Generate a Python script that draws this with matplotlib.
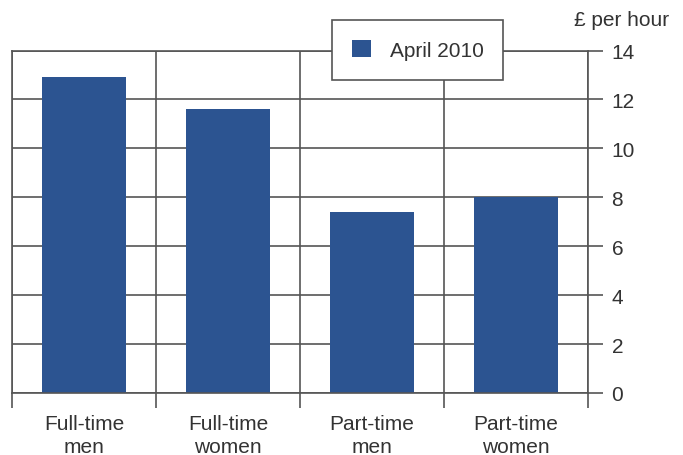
import matplotlib
matplotlib.use("Agg")
import matplotlib.pyplot as plt
from matplotlib.patches import Patch

# Hourly earnings by group, April 2010
categories = ["Full-time\nmen", "Full-time\nwomen", "Part-time\nmen", "Part-time\nwomen"]
earnings = [12.9, 11.6, 7.4, 8.0]
y_ticks = [0, 2, 4, 6, 8, 10, 12, 14]
series_name = "April 2010"

bar_color = "#2c5491"
line_color = "#555555"
text_color = "#333333"
fs = 15

plt.rcParams["font.family"] = ["Liberation Sans", "DejaVu Sans"]

W, H = 683, 456
fig = plt.figure(figsize=(W / 100, H / 100), dpi=100)
ax = fig.add_axes([12 / W, (H - 394) / H, (588 - 12) / W, (394 - 51.5) / H])

x = list(range(len(categories)))
ax.bar(x, earnings, width=0.59, color=bar_color, zorder=2)

ax.set_xlim(-0.5, len(categories) - 0.5)
ax.set_ylim(0, 14)

# category boundaries as major ticks (drawn as grid + long ticks below)
ax.set_xticks([i - 0.5 for i in range(len(categories) + 1)])
ax.set_xticklabels([])
ax.set_xticks(x, minor=True)
ax.set_xticklabels(categories, minor=True, fontsize=fs, color=text_color, linespacing=1.25)
ax.tick_params(axis="x", which="major", direction="out", length=11, width=1.2, color=line_color)
ax.tick_params(axis="x", which="minor", length=0, pad=15)

ax.yaxis.tick_right()
ax.set_yticks(y_ticks)
ax.tick_params(axis="y", direction="out", length=11, width=1.2, color=line_color,
               labelsize=fs, labelcolor=text_color, pad=6)

ax.grid(True, which="major", color=line_color, linewidth=1.2)
ax.set_axisbelow(True)
for sp in ax.spines.values():
    sp.set_color(line_color)
    sp.set_linewidth(1.2)

leg = fig.legend(handles=[Patch(facecolor=bar_color, edgecolor="none", label=series_name)],
                 loc="upper left", bbox_to_anchor=(332 / W, 1 - 21 / H), borderaxespad=0,
                 fontsize=fs, frameon=True, fancybox=False, framealpha=1,
                 borderpad=0.95, handlelength=0.92, handleheight=0.92, handletextpad=0.9,
                 labelcolor=text_color)
leg.get_frame().set_edgecolor(line_color)
leg.get_frame().set_linewidth(1.2)

fig.text(669 / W, 1 - 20 / H, "£ per hour", ha="right", va="center",
         fontsize=fs, color=text_color)

fig.savefig("out.png", dpi=100)
